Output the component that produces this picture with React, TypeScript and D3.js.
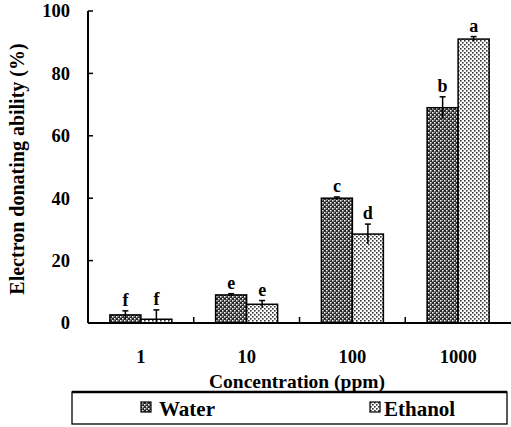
import React from 'react';
import * as d3 from 'd3';

const categories = ['1', '10', '100', '1000'];
const waterValues = [2.6, 9, 40, 69];
const waterErrors = [1.3, 0.4, 0.4, 3.5];
const waterLetters = ['f', 'e', 'c', 'b'];
const ethanolValues = [1.2, 6, 28.5, 91];
const ethanolErrors = [3, 1.2, 3.2, 0.8];
const ethanolLetters = ['f', 'e', 'd', 'a'];
const yTicks = [0, 20, 40, 60, 80, 100];

const W = 511;
const H = 427;
const margin = { top: 11, right: 0, bottom: 104, left: 88 };

// bold serif text helper
const T = (props: any) => (
    <text fontFamily="Liberation Serif" fontWeight="bold" {...props} />
);

const App = () => {
    const x = d3.scaleBand<string>()
        .domain(categories)
        .range([margin.left, W - margin.right]);
    // baseline at 323, 100 at 11
    const y = d3.scaleLinear()
        .domain([0, 100])
        .range([H - margin.bottom, margin.top]);

    const barW = 31;

    const series = [
        { name: 'Water', values: waterValues, errors: waterErrors, letters: waterLetters, fill: 'url(#waterPat)', off: -barW },
        { name: 'Ethanol', values: ethanolValues, errors: ethanolErrors, letters: ethanolLetters, fill: 'url(#ethPat)', off: 0 },
    ];

    const betweenTicks = categories.slice(1).map(c => x(c) as number);

    return (
        <svg width={W} height={H}
            style={{ position: 'absolute', left: 0, top: 0, background: '#fff' }}>
            <defs>
                <pattern id="waterPat" width="4" height="4" patternUnits="userSpaceOnUse">
                    <rect width="4" height="4" fill="#2a2a2a" />
                    <rect x="0" y="0" width="1.5" height="1.5" fill="#fff" />
                    <rect x="2" y="2" width="1.5" height="1.5" fill="#fff" />
                    <rect x="2" y="0" width="0.8" height="0.8" fill="#aaa" />
                </pattern>
                <pattern id="ethPat" width="4" height="4" patternUnits="userSpaceOnUse">
                    <rect width="4" height="4" fill="#fff" />
                    <rect x="0" y="0" width="1.6" height="1.6" fill="#333" />
                    <rect x="2" y="2" width="1.6" height="1.6" fill="#333" />
                </pattern>
            </defs>

            {/* bars */}
            {series.map(s => categories.map((c, i) => {
                const cx = (x(c) as number) + x.bandwidth() / 2;
                const top = y(s.values[i]);
                const errTop = y(s.values[i] + s.errors[i]);
                const errBot = y(Math.max(0, s.values[i] - s.errors[i]));
                const mid = cx + s.off + barW / 2;
                return (
                    <g key={s.name + c}>
                        <rect x={cx + s.off} y={top} width={barW} height={y(0) - top}
                            fill={s.fill} stroke="#000" strokeWidth={1.5} />
                        <line x1={mid} x2={mid} y1={errTop} y2={errBot} stroke="#000" strokeWidth={1.5} />
                        <line x1={mid - 3} x2={mid + 3} y1={errTop} y2={errTop} stroke="#000" strokeWidth={1.5} />
                        <T x={mid} y={errTop - 5} textAnchor="middle" fontSize={18}>{s.letters[i]}</T>
                    </g>
                );
            }))}

            {/* y axis */}
            <line x1={margin.left} x2={margin.left} y1={y(100)} y2={y(0)} stroke="#000" strokeWidth={2} />
            {yTicks.map(t => (
                <g key={t}>
                    <line x1={margin.left} x2={margin.left + 5} y1={y(t)} y2={y(t)} stroke="#000" strokeWidth={1.5} />
                    <T x={70} y={y(t)} dy="0.35em" textAnchor="end" fontSize={18.5}>{t}</T>
                </g>
            ))}
            <T transform={`translate(17,${(y(0) + y(100)) / 2 + 2}) rotate(-90)`} textAnchor="middle"
                dy="0.35em" fontSize={20}>Electron donating ability (%)</T>

            {/* x axis */}
            <line x1={margin.left} x2={W} y1={y(0)} y2={y(0)} stroke="#000" strokeWidth={2} />
            {betweenTicks.map(t => (
                <line key={t} x1={t} x2={t} y1={y(0)} y2={y(0) - 6} stroke="#000" strokeWidth={1.5} />
            ))}
            {categories.map(c => (
                <T key={c} x={(x(c) as number) + x.bandwidth() / 2} y={363} textAnchor="middle" fontSize={18.5}>{c}</T>
            ))}
            <T x={297} y={388} textAnchor="middle" fontSize={19.5}>Concentration (ppm)</T>

            {/* legend */}
            <rect x={72} y={392} width={435} height={32} fill="none" stroke="#000" strokeWidth={1.3} />
            <line x1={72} x2={507} y1={392} y2={392} stroke="#000" strokeWidth={2.5} />
            <rect x={141} y={402} width={10} height={10} fill="url(#waterPat)" stroke="#000" strokeWidth={1.2} />
            <T x={159} y={416} fontSize={21}>Water</T>
            <rect x={370} y={402} width={10} height={10} fill="url(#ethPat)" stroke="#000" strokeWidth={1.2} />
            <T x={384} y={416} fontSize={21}>Ethanol</T>
        </svg>
    );
};

export default App;
